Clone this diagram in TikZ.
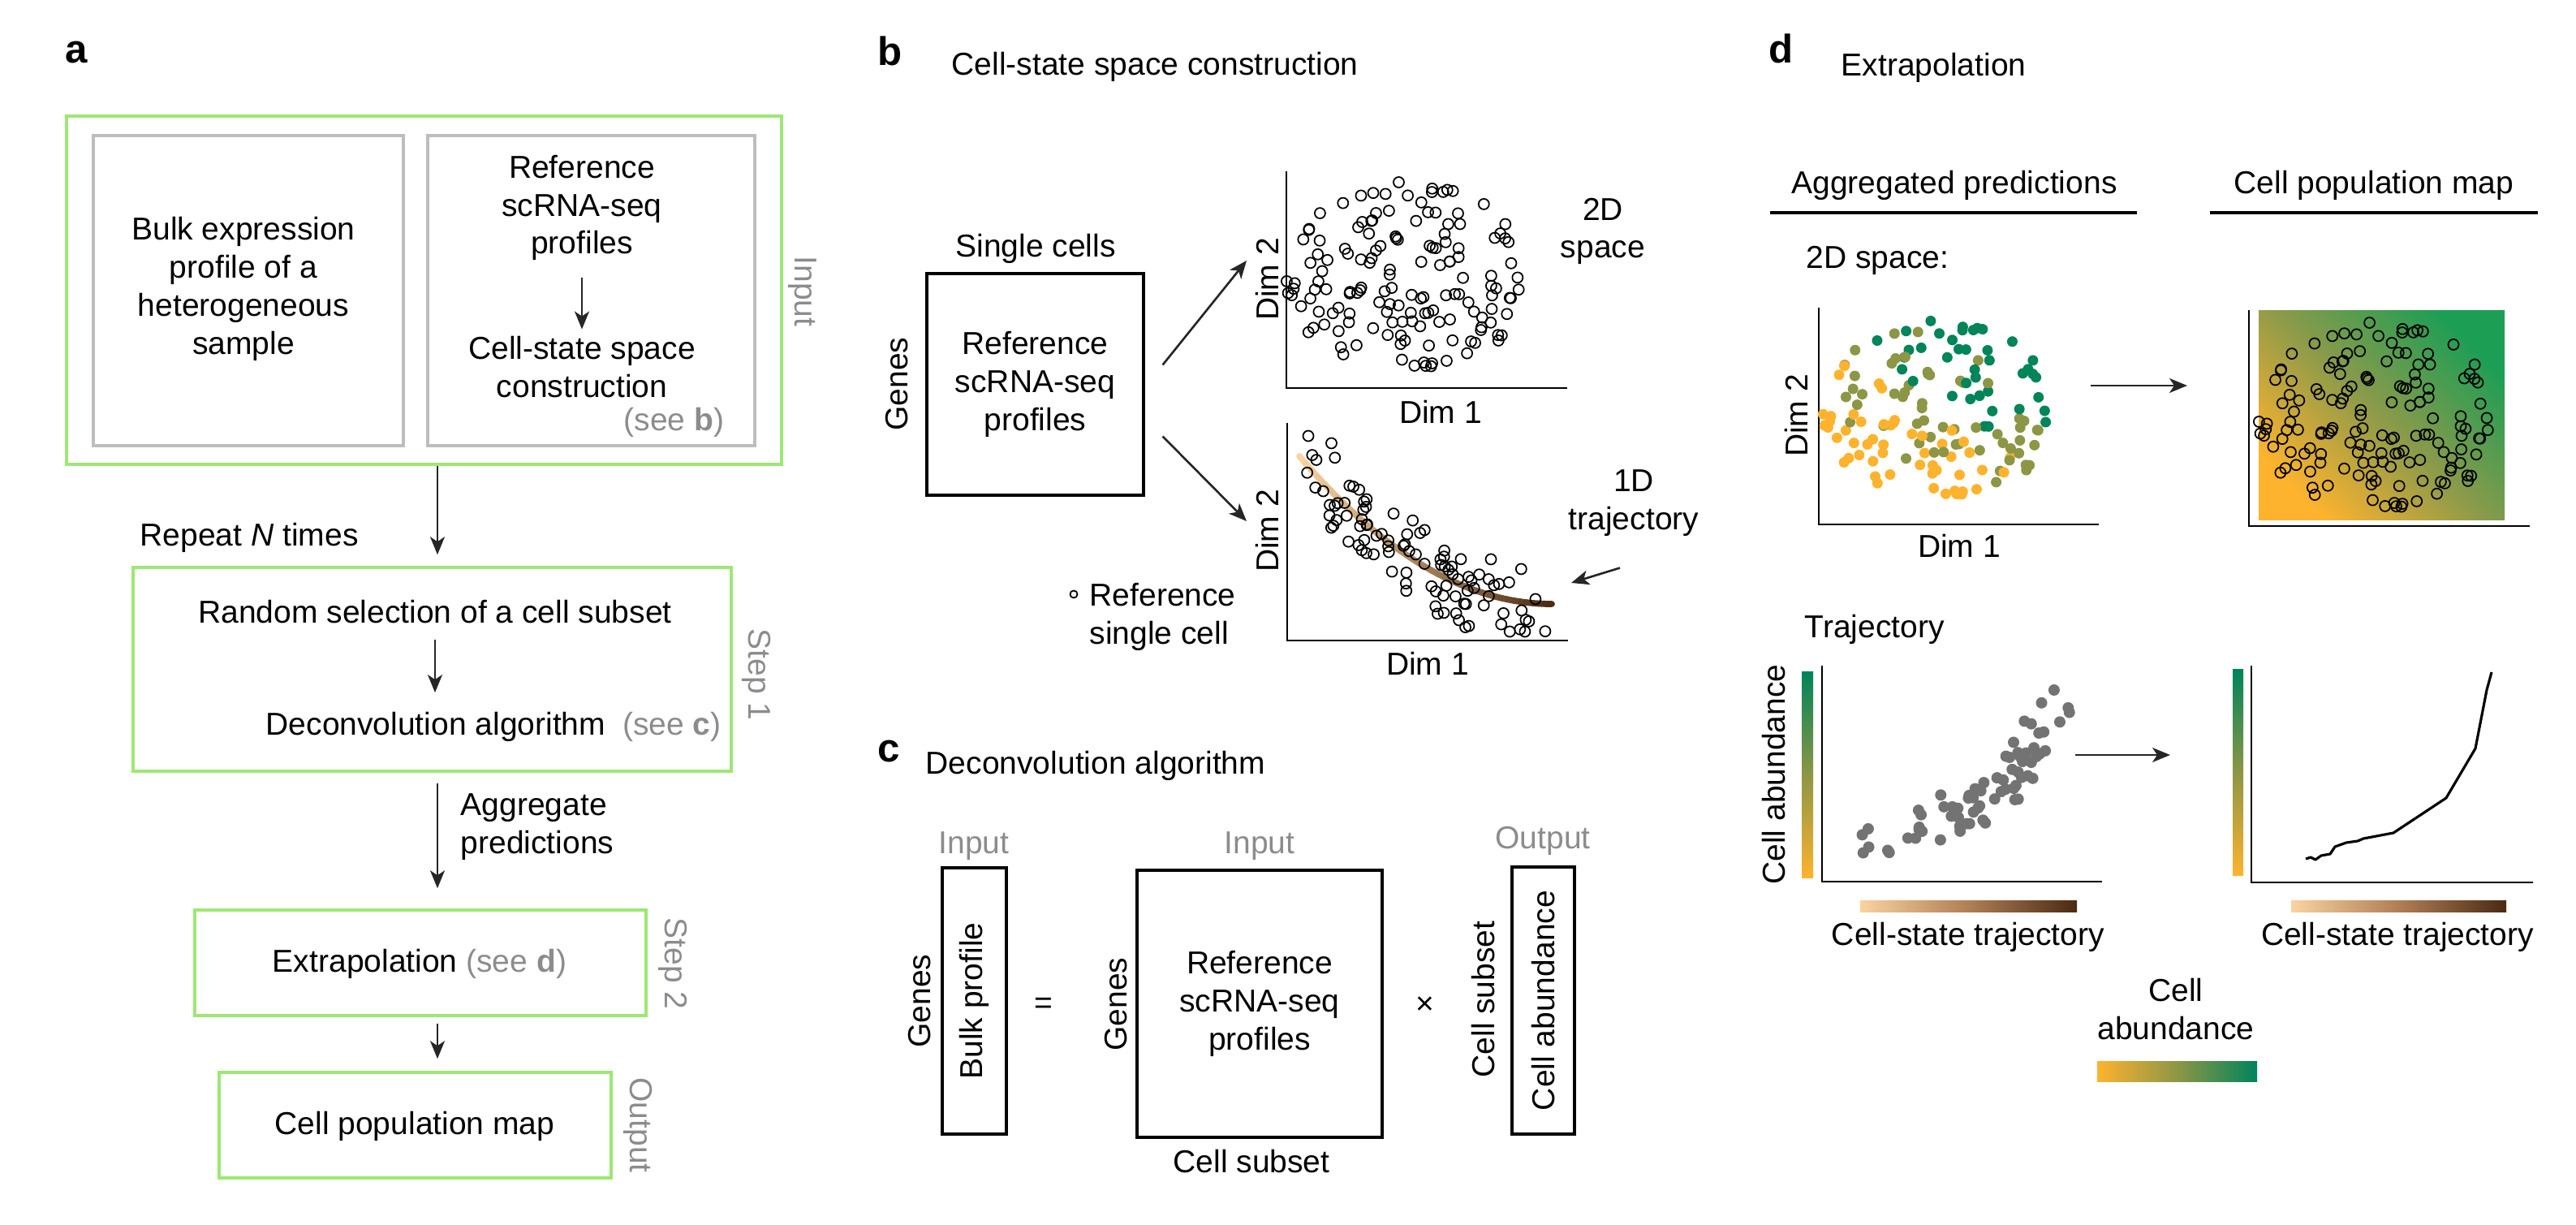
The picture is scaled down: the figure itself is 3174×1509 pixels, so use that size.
\documentclass[tikz,border=0pt]{standalone}
\usepackage{fontspec}
\setmainfont{Liberation Sans}
\usetikzlibrary{arrows.meta,calc}
\definecolor{boxgreen}{HTML}{9DE874}
\definecolor{boxgray}{HTML}{BDBDBD}
\definecolor{notegray}{HTML}{8C8C8C}
\definecolor{cellorange}{HTML}{FDB32E}
\definecolor{cellolive}{HTML}{8D9645}
\definecolor{cellgreen}{HTML}{00845A}
\definecolor{mapgreen}{HTML}{1D9E55}
\definecolor{mapolive}{HTML}{8B9A4A}
\definecolor{trajlight}{HTML}{F9D3A0}
\definecolor{trajmid}{HTML}{B07E55}
\definecolor{trajdark}{HTML}{4A2A12}
\definecolor{dotgray}{HTML}{737373}
\tikzset{
  txt/.style={inner sep=0pt, align=center},
  note/.style={txt, text=notegray},
  panel/.style={inner sep=0pt, font=\fontsize{14}{14}\bfseries\selectfont},
  greenbox/.style={draw=boxgreen, line width=1pt, inner sep=0pt},
  graybox/.style={draw=boxgray, line width=0.9pt, inner sep=0pt},
  matbox/.style={draw=black, line width=0.9pt, inner sep=0pt, align=center},
  arr/.style={-{Stealth[length=2.2mm,width=1.8mm,inset=0.6mm]}, line width=0.75pt, draw=black!85},
  axis/.style={line width=0.6pt},
  cell/.style={line width=0.5pt},
}

\begin{document}
\begin{tikzpicture}[x=0.1mm, y=-0.1mm, font=\fontsize{11.1}{13.3}\selectfont]
\useasboundingbox (0,0) rectangle (3174,1509);

%%%%% A %%%%%
\node[panel] (la) at (94,65) {a};
\node[greenbox, minimum width=88.1mm, minimum height=42.9mm] (input) at (522.5,357.5) {};
\node[graybox, minimum width=38.2mm, minimum height=38.2mm] (bulkbox) at (306,358) {};
\node[graybox, minimum width=40.3mm, minimum height=38.2mm] (refbox) at (728.5,358) {};
\node[txt] (bulk) at (300,356) {Bulk expression\\profile of a\\heterogeneous\\sample};
\node[txt] (refsc) at (717,256) {Reference\\scRNA-seq\\profiles};
\node[txt] (cssc) at (717,452) {Cell-state space\\construction};
\node[note, anchor=east] (seeb) at (893,520) {(see \textbf{b})};
\node[note, rotate=-90] (inlbl) at (989,359) {Input};
\draw[arr, shorten <=2mm, shorten >=0.8mm] (refsc) -- (cssc);

\coordinate (ax) at (539,0);
\node[txt, anchor=west] (rep) at (172,662) {Repeat \textit{N} times};
\node[greenbox, minimum width=73.7mm, minimum height=25.1mm] (step1) at (532.5,824.5) {};
\node[txt] (rand) at (536,754) {Random selection of a cell subset};
\node[txt, anchor=west] (decon) at (327,895) {Deconvolution algorithm\hspace{2.1mm}{\color{notegray}(see \textbf{c})}};
\node[note, rotate=-90] (s1lbl) at (932,831) {Step 1};
\node[txt, anchor=west, align=left] (aggr) at (567,1019) {Aggregate\\predictions};
\node[greenbox, minimum width=55.6mm, minimum height=13mm] (step2) at (518,1186) {};
\node[txt] (extra) at (517,1187) {Extrapolation {\color{notegray}(see \textbf{d})}};
\node[note, rotate=-90] (s2lbl) at (829,1187) {Step 2};
\node[greenbox, minimum width=48.3mm, minimum height=13mm] (outp) at (511.5,1386) {};
\node[txt] (cpm) at (511,1387) {Cell population map};
\node[note, rotate=-90] (outlbl) at (786,1386) {Output};

\draw[arr, shorten >=1.4mm] (input.south -| ax) -- (step1.north -| ax);
\draw[arr, shorten <=1.9mm, shorten >=2.3mm] (rand.south) -- (rand.south |- decon.north);
\draw[arr, shorten <=1.3mm, shorten >=2.5mm] (step1.south -| ax) -- (step2.north -| ax);
\draw[arr, shorten <=0.8mm, shorten >=1.5mm] (step2.south -| ax) -- (outp.north -| ax);

%%%%% B %%%%%
\node[panel] (lb) at (1097,63) {b};
\node[txt, anchor=west] (btitle) at (1172,82) {Cell-state space construction};
\node[txt] (single) at (1276,306) {Single cells};
\node[matbox, minimum width=26.7mm, minimum height=27.3mm] (bcells) at (1275.5,473.5) {Reference\\scRNA-seq\\profiles};
\node[txt, rotate=90] (bgenes) at (1105,473) {Genes};
\coordinate (b2d) at (1536,321);
\coordinate (b1d) at (1536,642);
\draw[arr] ($(bcells.east)+(22,-24)$) -- (b2d);
\draw[arr] ($(bcells.east)+(22,64)$) -- (b1d);

% 2D space
\draw[axis] (1585,211) -- (1585,478) -- (1931,478);
\node[txt, rotate=90] (bdim2a) at (1561,344) {Dim 2};
\node[txt] (bdim1a) at (1775,507) {Dim 1};
\node[txt] (b2dlbl) at (1975,285) {2D\\space};
\pgfmathsetseed{4}
\foreach \k in {1,...,150}{
  \pgfmathsetmacro\cloudr{(0.02+0.98*rnd)^0.5}
  \pgfmathsetmacro\clouda{360*rnd}
  \pgfmathsetmacro\cloudn{rnd}
  \draw[cell] ({1733+148*\cloudr*cos(\clouda)},{344-122*\cloudr*sin(\clouda)}) circle[radius=0.65mm];
}

% 1D trajectory
\draw[axis] (1586,521) -- (1586,789) -- (1932,789);
\node[txt, rotate=90] (bdim2b) at (1561,654) {Dim 2};
\node[txt] (bdim1b) at (1759,817) {Dim 1};
\foreach \i in {0,...,39}{
  \pgfmathsetmacro\ta{\i/40}
  \pgfmathsetmacro\tb{(\i+1)/40}
  \pgfmathsetmacro\mix{100-2.5*\i}
  \draw[line width=2.2pt, line cap=round, trajlight!\mix!trajdark]
    ({1601+311*\ta},{562+182*(1-(1-\ta)*(1-\ta))}) -- ({1601+311*\tb},{562+182*(1-(1-\tb)*(1-\tb))});
}
\pgfmathsetseed{5}
\foreach \k in {1,...,100}{
  \pgfmathsetmacro\tq{rnd}
  \pgfmathsetmacro\px{1605+295*\tq+20*(rnd-0.5)}
  \pgfmathsetmacro\py{min(778,562+182*(1-(1-\tq)*(1-\tq))+95*(rnd-0.5))}
  \draw[cell] (\px,\py) circle[radius=0.65mm];
}
\node[txt] (b1dlbl) at (2013,620) {1D\\trajectory};
\coordinate (b1dend) at (1936,718);
\draw[arr] ($(b1dlbl.south)+(-17,38)$) -- (b1dend);
\draw[cell] (1323,732) circle[radius=0.45mm];
\node[txt, anchor=west, align=left] (blegend) at (1342,760) {Reference\\single cell};

%%%%% C %%%%%
\node[panel] (lc) at (1095,926) {c};
\node[txt, anchor=west] (ctitle) at (1140,943) {Deconvolution algorithm};
\node[matbox, rotate=90, minimum width=32.8mm, minimum height=7.9mm] (bulkp) at (1200.5,1233) {Bulk profile};
\node[note] (cin1) at (1200,1042) {Input};
\node[txt, rotate=90] (cgenes1) at (1133,1233) {Genes};
\node[txt] (ceq) at (1286,1239) {=};
\node[txt, rotate=90] (cgenes2) at (1375,1237) {Genes};
\node[matbox, minimum width=30.2mm, minimum height=32.9mm] (cref) at (1552,1236.5) {Reference\\scRNA-seq\\profiles};
\node[note] (cin2) at (1552,1042) {Input};
\node[txt] (csub) at (1542,1431) {Cell subset};
\node[txt] (ctimes) at (1756,1239) {×};
\node[txt, rotate=90] (csub2) at (1828,1231) {Cell subset};
\node[matbox, rotate=90, minimum width=32.9mm, minimum height=7.7mm] (cabund) at (1901.5,1232.5) {Cell abundance};
\node[note] (cout) at (1901,1036) {Output};

%%%%% D %%%%%
\node[panel] (ld) at (2195,60) {d};
\node[txt, anchor=west] (dtitle) at (2268,83) {Extrapolation};
\node[txt] (aggpred) at (2408,228) {Aggregated predictions};
\draw[line width=0.9pt] (2181,262) -- (2633,262);
\node[txt] (popmap) at (2925,228) {Cell population map};
\draw[line width=0.9pt] (2723,262) -- (3127,262);
\node[txt, anchor=west] (d2d) at (2225,321) {2D space:};

% aggregated 2D
\draw[axis] (2241,379) -- (2241,646) -- (2586,646);
\node[txt, rotate=90] (ddim2) at (2213,512) {Dim 2};
\node[txt] (ddim1) at (2414,672) {Dim 1};
\pgfmathsetseed{4}
\foreach \k in {1,...,150}{
  \pgfmathsetmacro\cloudr{(0.02+0.98*rnd)^0.5}
  \pgfmathsetmacro\clouda{360*rnd}
  \pgfmathsetmacro\cloudn{rnd}
  \pgfmathsetmacro\clouds{0.4*\cloudr*cos(\clouda)+0.6*\cloudr*sin(\clouda)+0.55*(\cloudn-0.5)}
  \pgfmathtruncatemacro\cloudk{\clouds<-0.2 ? 0 : (\clouds>0.25 ? 2 : 1)}
  \ifcase\cloudk \def\dotcol{cellorange}\or \def\dotcol{cellolive}\else \def\dotcol{cellgreen}\fi
  \fill[\dotcol] ({2388+142*\cloudr*cos(\clouda)},{508-115*\cloudr*sin(\clouda)}) circle[radius=0.65mm];
}
\coordinate (dmapa) at (2576,475);
\coordinate (dmapb) at (2695,475);
\draw[arr] (dmapa) -- (dmapb);

% population map 2D
\shade[bottom color=cellorange, top color=mapgreen, middle color=mapolive, shading angle=-45] (2783,383) rectangle (3086,641);
\draw[axis] (2771,382) -- (2771,648) -- (3117,648);
\pgfmathsetseed{4}
\foreach \k in {1,...,150}{
  \pgfmathsetmacro\cloudr{(0.02+0.98*rnd)^0.5}
  \pgfmathsetmacro\clouda{360*rnd}
  \pgfmathsetmacro\cloudn{rnd}
  \draw[cell] ({2929+146*\cloudr*cos(\clouda)},{517-122*\cloudr*sin(\clouda)}) circle[radius=0.65mm];
}

% trajectory
\node[txt, anchor=west] (dtraj) at (2223,775) {Trajectory};
\shade[top color=cellgreen, bottom color=cellorange, middle color=cellolive] (2220,828) rectangle (2234,1082);
\node[txt, rotate=90] (dabund) at (2186,954) {Cell abundance};
\draw[axis] (2245,820) -- (2245,1086) -- (2590,1086);
\pgfmathsetseed{3}
\foreach \k in {1,...,70}{
  \pgfmathsetmacro\tq{(0.02+0.98*rnd)^0.8}
  \pgfmathsetmacro\px{2292+245*\tq+40*(rnd-0.5)}
  \pgfmathsetmacro\py{1030-200*(0.3*\tq+0.7*\tq*\tq*\tq*\tq*\tq*\tq)+60*(rnd-0.5)}
  \fill[dotgray] (\px,\py) circle[radius=0.7mm];
}
\shade[left color=trajlight, right color=trajdark, middle color=trajmid] (2292,1110) rectangle (2559,1124);
\node[txt] (dcst1) at (2425,1154) {Cell-state trajectory};
\coordinate (dtrja) at (2557,930);
\coordinate (dtrjb) at (2674,930);
\draw[arr] (dtrja) -- (dtrjb);

\shade[top color=cellgreen, bottom color=cellorange, middle color=cellolive] (2751,825) rectangle (2764,1079);
\draw[axis] (2774,820) -- (2774,1087) -- (3121,1087);
\draw[line width=0.9pt, line join=round] (2841,1058) -- (2847,1056) -- (2853,1059) -- (2860,1054) -- (2871,1052) -- (2877,1043) -- (2891,1038) -- (2905,1036) -- (2912,1033) -- (2949,1026) -- (3014,983) -- (3050,922) -- (3064,850) -- (3070,828);
\shade[left color=trajlight, right color=trajdark, middle color=trajmid] (2823,1110) rectangle (3088,1124);
\node[txt] (dcst2) at (2954,1154) {Cell-state trajectory};

\node[txt] (dlegend) at (2681,1243) {Cell\\abundance};
\shade[left color=cellorange, right color=cellgreen, middle color=cellolive] (2584,1307) rectangle (2781,1332);

\end{tikzpicture}
\end{document}
